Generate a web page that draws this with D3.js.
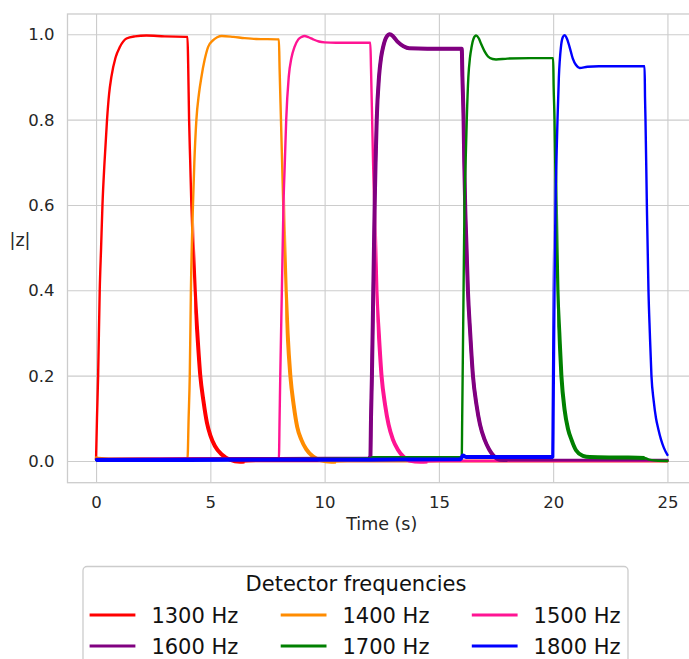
<!DOCTYPE html>
<html>
<head>
<meta charset="utf-8">
<script src="https://cdn.jsdelivr.net/npm/d3@7"></script>
<style>
  html, body { margin: 0; padding: 0; background: #fff; }
  svg { display: block; font-family: "DejaVu Sans", sans-serif; }
</style>
</head>
<body>
<svg id="chart" width="689" height="659"></svg>
<script>
// ---------------- data ----------------
const seriesNames = ["1300 Hz", "1400 Hz", "1500 Hz", "1600 Hz", "1700 Hz", "1800 Hz"];
const seriesColors = ["#ff0000", "#ff8c00", "#ff1493", "#800080", "#008000", "#0000ff"];

const t1300 = [0, 0.04, 0.09, 0.16, 0.22, 0.28, 0.37, 0.48, 0.57, 0.67, 0.85, 1.04, 1.33, 1.7, 2.2, 3.0, 4.0, 4.03, 4.07, 4.12, 4.17, 4.24, 4.32, 4.43, 4.56, 4.7, 4.85, 5.0, 5.2, 5.5, 5.85, 6.3, 7.0, 10, 15, 20, 25];
const v1300 = [0.005, 0.1, 0.2, 0.4, 0.5, 0.6, 0.7, 0.8, 0.86, 0.9, 0.945, 0.97, 0.99, 0.995, 0.997, 0.995, 0.994, 0.93, 0.8, 0.7, 0.6, 0.5, 0.4, 0.3, 0.2, 0.14, 0.09, 0.06, 0.035, 0.015, 0.003, -0.002, 0.0, 0.0, 0.0, 0.0, 0.0];

const t1400 = [0, 0.1, 1, 2, 3, 4.0, 4.05, 4.1, 4.15, 4.24, 4.3, 4.39, 4.5, 4.61, 4.75, 4.9, 5.1, 5.3, 5.5, 6.0, 6.5, 7.0, 8.0, 8.03, 8.09, 8.14, 8.19, 8.24, 8.3, 8.38, 8.5, 8.65, 8.8, 8.98, 9.2, 9.5, 9.8, 10.3, 11, 15, 20, 25];
const v1400 = [0.008, 0.007, 0.005, 0.005, 0.004, 0.004, 0.1, 0.2, 0.4, 0.6, 0.7, 0.8, 0.86, 0.9, 0.94, 0.97, 0.985, 0.993, 0.996, 0.994, 0.991, 0.989, 0.988, 0.92, 0.8, 0.7, 0.6, 0.5, 0.4, 0.3, 0.2, 0.13, 0.08, 0.05, 0.027, 0.01, 0.002, -0.002, 0, 0, 0, 0];

const t1500 = [0, 4, 8.0, 8.03, 8.06, 8.13, 8.2, 8.26, 8.32, 8.43, 8.55, 8.68, 8.85, 9.0, 9.12, 9.3, 9.5, 9.75, 10.0, 10.5, 12.0, 12.03, 12.08, 12.12, 12.17, 12.22, 12.27, 12.37, 12.49, 12.65, 12.8, 12.99, 13.2, 13.45, 13.7, 14.2, 15, 20, 25];
const v1500 = [0.004, 0.006, 0.006, 0.1, 0.2, 0.4, 0.6, 0.7, 0.8, 0.9, 0.945, 0.97, 0.988, 0.994, 0.996, 0.993, 0.988, 0.983, 0.981, 0.98, 0.98, 0.92, 0.8, 0.7, 0.6, 0.5, 0.4, 0.3, 0.2, 0.13, 0.085, 0.05, 0.027, 0.01, 0.001, -0.002, 0, 0, 0];

const t1600 = [0, 4, 8, 12.0, 12.03, 12.07, 12.13, 12.19, 12.23, 12.28, 12.38, 12.47, 12.56, 12.7, 12.85, 13.0, 13.2, 13.45, 13.7, 14.5, 16.0, 16.03, 16.08, 16.11, 16.15, 16.21, 16.27, 16.37, 16.49, 16.65, 16.8, 17.0, 17.2, 17.4, 17.65, 18.2, 20, 25];
const v1600 = [0.004, 0.005, 0.006, 0.007, 0.1, 0.2, 0.4, 0.6, 0.7, 0.8, 0.9, 0.945, 0.97, 0.993, 1.0, 0.995, 0.982, 0.972, 0.967, 0.966, 0.966, 0.9, 0.8, 0.7, 0.6, 0.5, 0.4, 0.3, 0.2, 0.13, 0.085, 0.05, 0.027, 0.012, 0.003, 0.002, 0.002, 0.002];

const t1700 = [0, 4, 8, 12, 12.1, 16.0, 16.02, 16.04, 16.08, 16.12, 16.17, 16.22, 16.29, 16.36, 16.43, 16.52, 16.63, 16.75, 16.85, 17.0, 17.15, 17.35, 17.5, 18, 19, 20.0, 20.02, 20.06, 20.09, 20.12, 20.15, 20.19, 20.27, 20.36, 20.5, 20.65, 20.8, 21.0, 21.3, 21.6, 23, 24.0, 24.2, 24.5, 25];
const v1700 = [0.002, 0.003, 0.004, 0.006, 0.009, 0.009, 0.1, 0.2, 0.4, 0.6, 0.7, 0.8, 0.9, 0.945, 0.97, 0.99, 0.997, 0.99, 0.977, 0.96, 0.948, 0.942, 0.941, 0.943, 0.944, 0.944, 0.88, 0.8, 0.7, 0.6, 0.5, 0.4, 0.3, 0.2, 0.12, 0.075, 0.05, 0.025, 0.012, 0.009, 0.008, 0.007, 0.003, 0.001, 0.0];

const t1800 = [0, 4, 8, 12, 15.95, 16.05, 16.2, 17, 20.0, 20.015, 20.03, 20.06, 20.1, 20.14, 20.19, 20.25, 20.34, 20.42, 20.5, 20.6, 20.72, 20.86, 21.0, 21.16, 21.5, 22, 24.0, 24.02, 24.04, 24.1, 24.17, 24.23, 24.3, 24.4, 24.5, 24.6, 24.72, 24.85, 25];
const v1800 = [0.002, 0.002, 0.003, 0.003, 0.004, 0.013, 0.009, 0.009, 0.009, 0.1, 0.2, 0.4, 0.6, 0.7, 0.8, 0.9, 0.97, 0.993, 0.998, 0.99, 0.97, 0.943, 0.928, 0.921, 0.924, 0.925, 0.925, 0.85, 0.8, 0.6, 0.4, 0.3, 0.2, 0.14, 0.1, 0.075, 0.05, 0.03, 0.014];

const xTicks = [0, 5, 10, 15, 20, 25];
const yTicks = [0.0, 0.2, 0.4, 0.6, 0.8, 1.0];
const xLabel = "Time (s)";
const yLabel = "|z|";
const legendTitle = "Detector frequencies";

// time spans where the reference trace looks thicker (fast ripple) - style only
const thickSpans = [[[4.3, 6.5]], [[8.28, 10.5]], [[12.27, 14.5]], [[11.9, 18.0]], [[20.18, 24.0]], [[-1, 20.0]]];

const times = [t1300, t1400, t1500, t1600, t1700, t1800];
const values = [v1300, v1400, v1500, v1600, v1700, v1800];

// ---------------- layout ----------------
const svg = d3.select("#chart");
const plot = { left: 67.5, top: 14, right: 696, bottom: 482.7 };
const x = d3.scaleLinear().domain([-1.25, 26.25]).range([plot.left, plot.right]);
const y = d3.scaleLinear().domain([-0.051, 1.0475]).range([plot.bottom, plot.top]);
const gridColor = "#cccccc";
const textColor = "#262626";

// grid
const g = svg.append("g");
g.append("g").attr("transform", `translate(0,${plot.bottom})`)
  .call(d3.axisBottom(x).tickValues(xTicks).tickSize(-(plot.bottom - plot.top)).tickFormat(d => d3.format("d")(d)).tickPadding(14))
  .call(s => s.select(".domain").remove())
  .call(s => s.selectAll(".tick line").attr("stroke", gridColor).attr("stroke-width", 1.1))
  .call(s => s.selectAll(".tick text").attr("fill", textColor).style("font-size", "16.5px").style("font-family", "DejaVu Sans"));

g.append("g").attr("transform", `translate(${plot.left},0)`)
  .call(d3.axisLeft(y).tickValues(yTicks).tickSize(-(plot.right - plot.left)).tickFormat(d3.format(".1f")).tickPadding(13))
  .call(s => s.select(".domain").remove())
  .call(s => s.selectAll(".tick line").attr("stroke", gridColor).attr("stroke-width", 1.1))
  .call(s => s.selectAll(".tick text").attr("fill", textColor).style("font-size", "16.5px").style("font-family", "DejaVu Sans").attr("dy", "0.34em"));

// frame
svg.append("rect")
  .attr("x", plot.left).attr("y", plot.top)
  .attr("width", plot.right - plot.left).attr("height", plot.bottom - plot.top)
  .attr("fill", "none").attr("stroke", gridColor).attr("stroke-width", 1.3);

// clips
const defs = svg.append("defs");
defs.append("clipPath").attr("id", "clip")
  .append("rect").attr("x", plot.left).attr("y", plot.top)
  .attr("width", plot.right - plot.left).attr("height", plot.bottom - plot.top);

const line = d3.line().x(d => x(d[0])).y(d => y(d[1])).curve(d3.curveMonotoneX);
const lines = svg.append("g").attr("clip-path", "url(#clip)");

seriesNames.forEach((name, i) => {
  const pts = times[i].map((t, j) => [t, values[i][j]]);
  const d = line(pts);
  lines.append("path")
    .attr("d", d)
    .attr("fill", "none")
    .attr("stroke", seriesColors[i])
    .attr("stroke-width", i === 3 ? 2.9 : 2.4)
    .attr("stroke-linejoin", "round")
    .attr("stroke-linecap", "round");
  thickSpans[i].forEach(([a, b], k) => {
    const id = `thick-${i}-${k}`;
    defs.append("clipPath").attr("id", id)
      .append("rect").attr("x", x(a)).attr("y", plot.top)
      .attr("width", x(b) - x(a)).attr("height", plot.bottom - plot.top);
    lines.append("path")
      .attr("d", d)
      .attr("clip-path", `url(#${id})`)
      .attr("fill", "none")
      .attr("stroke", seriesColors[i])
      .attr("stroke-width", 4)
      .attr("stroke-linejoin", "round");
  });
});

// axis labels
svg.append("text")
  .attr("x", (plot.left + plot.right) / 2).attr("y", 530)
  .attr("text-anchor", "middle").attr("fill", textColor)
  .style("font-size", "17.5px").text(xLabel);

svg.append("text")
  .attr("x", 20).attr("y", 246)
  .attr("text-anchor", "middle").attr("fill", textColor)
  .style("font-size", "17.5px").text(yLabel);

// legend
const leg = svg.append("g");
leg.append("rect")
  .attr("x", 83).attr("y", 566.5).attr("width", 545).attr("height", 110)
  .attr("rx", 4).attr("ry", 4)
  .attr("fill", "#ffffff").attr("fill-opacity", 0.8)
  .attr("stroke", gridColor).attr("stroke-width", 1.3);

leg.append("text")
  .attr("x", 356).attr("y", 590.5)
  .attr("text-anchor", "middle").attr("fill", "#111")
  .style("font-size", "21px").text(legendTitle);

const colX = [89.6, 280.7, 471.8];
const rowY = [615, 646];
seriesNames.forEach((name, i) => {
  const c = i % 3, r = Math.floor(i / 3);
  leg.append("line")
    .attr("x1", colX[c]).attr("x2", colX[c] + 45.8)
    .attr("y1", rowY[r]).attr("y2", rowY[r])
    .attr("stroke", seriesColors[i]).attr("stroke-width", 2.9);
  leg.append("text")
    .attr("x", colX[c] + 61.8).attr("y", rowY[r] + 7.6)
    .attr("fill", "#111")
    .style("font-size", "21px").text(name);
});
</script>
</body>
</html>
